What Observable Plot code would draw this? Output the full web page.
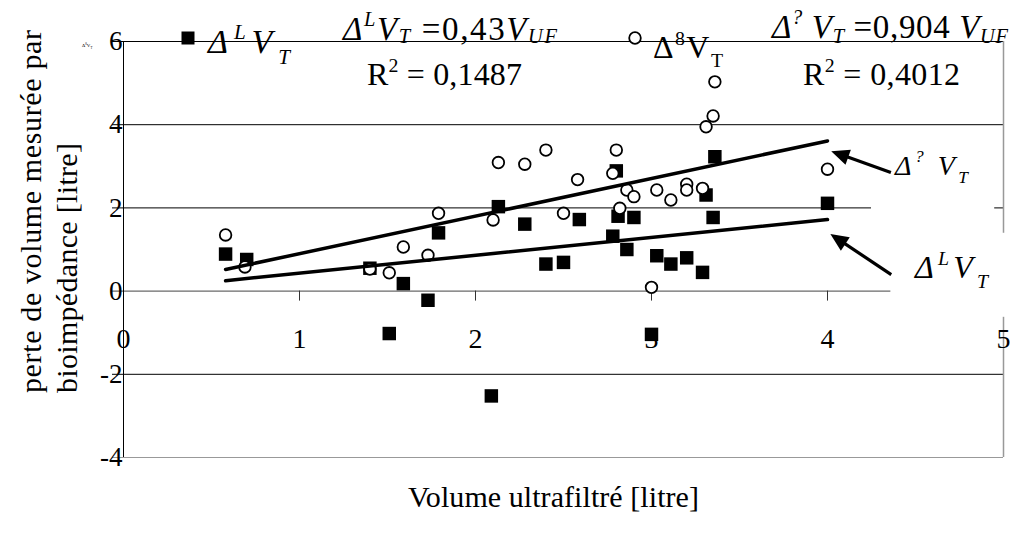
<!DOCTYPE html>
<html><head><meta charset="utf-8">
<script src="https://cdn.jsdelivr.net/npm/d3@7"></script>
<script src="https://cdn.jsdelivr.net/npm/@observablehq/plot@0.6"></script>
<style>
html,body{margin:0;padding:0;background:#fff;}
#chart{width:1010px;height:538px;}
svg{display:block;}
</style></head><body><div id="chart"></div>
<script>
// ---- data ----
const lossL_x = [0.58,0.70,1.40,1.51,1.59,1.73,1.79,2.09,2.13,2.28,2.40,2.50,2.59,2.78,2.80,2.81,2.86,2.90,3.00,3.03,3.11,3.20,3.29,3.31,3.35,3.36,4.00];
const lossL_y = [0.89,0.76,0.55,-1.02,0.18,-0.22,1.40,-2.52,2.03,1.61,0.65,0.69,1.72,1.32,2.89,1.80,1.00,1.77,-1.04,0.85,0.65,0.80,0.45,2.31,1.77,3.23,2.11];
const loss8_x = [0.58,0.69,1.40,1.51,1.59,1.73,1.79,2.10,2.13,2.28,2.40,2.50,2.58,2.78,2.80,2.82,2.86,2.90,3.00,3.03,3.11,3.20,3.20,3.29,3.31,3.35,3.36,4.00];
const loss8_y = [1.35,0.58,0.53,0.44,1.06,0.86,1.87,1.71,3.09,3.05,3.39,1.87,2.68,2.83,3.39,1.99,2.43,2.27,0.09,2.43,2.19,2.57,2.43,2.47,3.95,4.21,5.03,2.93];
// trend lines (endpoints as drawn)
const trendL_x = [0.58, 4.0], trendL_y = [0.25, 1.72];
const trend8_x = [0.58, 4.0], trend8_y = [0.52, 3.61];
// ticks
const xTickValues = [0,1,2,3,4,5];
const xTickLabels = ["0","1","2","3","4","5"];
const yTickValues = [-4,-2,0,2,4,6];
const yTickLabels = ["-4","-2","0","2","4","6"];
const gridBlack = [6,4,2,-2];
// annotation arrows (tail -> tip, data units)
const arrowTail_x = [4.363, 4.365], arrowTail_y = [2.84, 0.385];
const arrowTip_x = [4.024, 4.019], arrowTip_y = [3.35, 1.36];

const serif = "'Liberation Serif','DejaVu Serif',serif";
const ptsL = lossL_x.map((x,i)=>({x, y: lossL_y[i]}));
const pts8 = loss8_x.map((x,i)=>({x, y: loss8_y[i]}));
const lineL = trendL_x.map((x,i)=>({x, y: trendL_y[i]}));
const line8 = trend8_x.map((x,i)=>({x, y: trend8_y[i]}));

const plot = Plot.plot({
  width: 1010, height: 538,
  marginLeft: 123, marginRight: 7, marginTop: 41, marginBottom: 81,
  x: {domain: [0,5], axis: null},
  y: {domain: [-4,6], axis: null},
  style: {fontFamily: serif, background: "#fff", overflow: "visible", color: "#000"},
  marks: [
    Plot.ruleY(gridBlack, {stroke: "#000", strokeWidth: 1, insetLeft: -11}),
    Plot.ruleY([0], {stroke: "#444", strokeWidth: 1, insetLeft: -11}),
    Plot.ruleY([-4], {stroke: "#999", strokeWidth: 1.2, insetLeft: -11}),
    Plot.ruleX([5], {stroke: "#999", strokeWidth: 1.5}),
    Plot.ruleX([0], {stroke: "#000", strokeWidth: 1}),
    Plot.ruleX(xTickValues.slice(1, -1), {x: d => d, y1: 0, y2: 0, insetBottom: -10, stroke: "#333"}),
    // white label backgrounds hiding grid segments
    Plot.rect([0], {x1: 4.25, x2: 4.95, y1: 1.6, y2: 3.4, fill: "#fff"}),
    Plot.rect([0], {x1: 4.36, x2: 5.1, y1: -0.63, y2: 1.39, fill: "#fff"}),
    Plot.text(yTickValues, {y: d => d, text: (d,i) => yTickLabels[i], frameAnchor: "left", textAnchor: "end", dx: -1, fontSize: 27, fill: "#000"}),
    Plot.text(xTickValues, {x: d => d, text: (d,i) => xTickLabels[i], frameAnchor: "bottom", dy: -110, fontSize: 28, fill: "#000"}),
    Plot.dot(ptsL, {x: "x", y: "y", symbol: "square", r: 7.6, fill: "#000", stroke: "none"}),
    Plot.dot(pts8, {x: "x", y: "y", symbol: "circle", r: 5.8, fill: "#fff", stroke: "#000", strokeWidth: 1.8}),
    Plot.line(line8, {x: "x", y: "y", stroke: "#000", strokeWidth: 3.5}),
    Plot.line(lineL, {x: "x", y: "y", stroke: "#000", strokeWidth: 3.5})
  ]
});
document.getElementById("chart").appendChild(plot);

const svg = d3.select(plot);
const X = plot.scale("x"), Y = plot.scale("y");

// arrows with filled heads
arrowTail_x.forEach((_, i) => {
  const tx = X.apply(arrowTail_x[i]), ty = Y.apply(arrowTail_y[i]);
  const hx = X.apply(arrowTip_x[i]), hy = Y.apply(arrowTip_y[i]);
  const len = Math.hypot(hx - tx, hy - ty), ux = (hx - tx)/len, uy = (hy - ty)/len;
  const L = 18, W = 8;
  const bx = hx - L*ux, by = hy - L*uy;
  svg.append("line").attr("x1", tx).attr("y1", ty).attr("x2", bx + 2*ux).attr("y2", by + 2*uy)
    .attr("stroke", "#000").attr("stroke-width", 3.2);
  svg.append("polygon").attr("points", [[hx,hy],[bx - W*uy, by + W*ux],[bx + W*uy, by - W*ux]].map(p => p.join(",")).join(" "))
    .attr("fill", "#000");
});

// rich text helper: parts = [text, kind('', 'sup', 'sub'), italic]
function rich({x, y, size, width, parts, rotate, anchor, sup = 0.42, sub = 0.3, small = 0.62}) {
  const t = svg.append("text").attr("x", x).attr("y", y).attr("font-size", size)
    .attr("font-family", serif).attr("fill", "#000").attr("text-anchor", anchor || "start");
  if (rotate) t.attr("transform", `rotate(${rotate},${x},${y})`);
  let shift = 0;
  for (const [s, kind, it] of parts) {
    const target = kind === "sup" ? -sup*size : kind === "sub" ? sub*size : 0;
    t.append("tspan").text(s).attr("dy", target - shift)
      .attr("font-size", kind ? size*small : size)
      .attr("font-style", it ? "italic" : "normal");
    shift = target;
  }
  if (width) t.attr("textLength", width).attr("lengthAdjust", "spacing");
  return t;
}

// legend markers
svg.append("rect").attr("x", 181.5).attr("y", 31.5).attr("width", 13).attr("height", 13).attr("fill", "#000");
svg.append("circle").attr("cx", 635).attr("cy", 38).attr("r", 5.8).attr("fill", "#fff").attr("stroke", "#000").attr("stroke-width", 1.8);

// legend texts
rich({x: 208, y: 53, size: 34, width: 82, sup: 0.42, sub: 0.32,
  parts: [["Δ","",1],["L","sup",1],["V","",1],["T","sub",1]]});
rich({x: 653, y: 58, size: 32, width: 70, sup: 0.42, sub: 0.28,
  parts: [["Δ","",0],["8","sup",0],["V","",0],["T","sub",0]]});

// equations
rich({x: 343, y: 40, size: 33, width: 214, sup: 0.42, sub: 0.08,
  parts: [["Δ","",1],["L","sup",1],["V","",1],["T","sub",1],[" =0,43","",0],["V","",1],["UF","sub",1]]});
rich({x: 367, y: 85, size: 32, width: 155, sup: 0.4,
  parts: [["R","",0],["2","sup",0],[" = 0,1487","",0]]});
rich({x: 772, y: 38, size: 33, width: 236, sup: 0.42, sub: 0.15,
  parts: [["Δ","",1],["?","sup",1],[" V","",1],["T","sub",1],[" =0,904 ","",0],["V","",1],["UF","sub",1]]});
rich({x: 803, y: 85, size: 32, width: 157, sup: 0.4,
  parts: [["R","",0],["2","sup",0],[" = 0,4012","",0]]});

// arrow labels
rich({x: 895, y: 175, size: 28, width: 73, sup: 0.45, sub: 0.3,
  parts: [["Δ","",1],["?","sup",1],[" V","",1],["T","sub",1]]});
rich({x: 915, y: 278, size: 32, width: 73, sup: 0.42, sub: 0.3,
  parts: [["Δ","",1],["L","sup",1],["V","",1],["T","sub",1]]});

// tiny stray legend text
rich({x: 82, y: 47, size: 5, sup: 0.4, sub: 0.3,
  parts: [["Δ","",0],["8","sup",0],["V","",0],["T","sub",0]]});

// axis titles
rich({x: 41, y: 393, size: 30, width: 363, rotate: -90, parts: [["perte de volume mesurée par","",0]]});
rich({x: 77, y: 393, size: 30, width: 250, rotate: -90, parts: [["bioimpédance [litre]","",0]]});
rich({x: 408, y: 507, size: 30, width: 291, parts: [["Volume ultrafiltré [litre]","",0]]});
</script></body></html>
